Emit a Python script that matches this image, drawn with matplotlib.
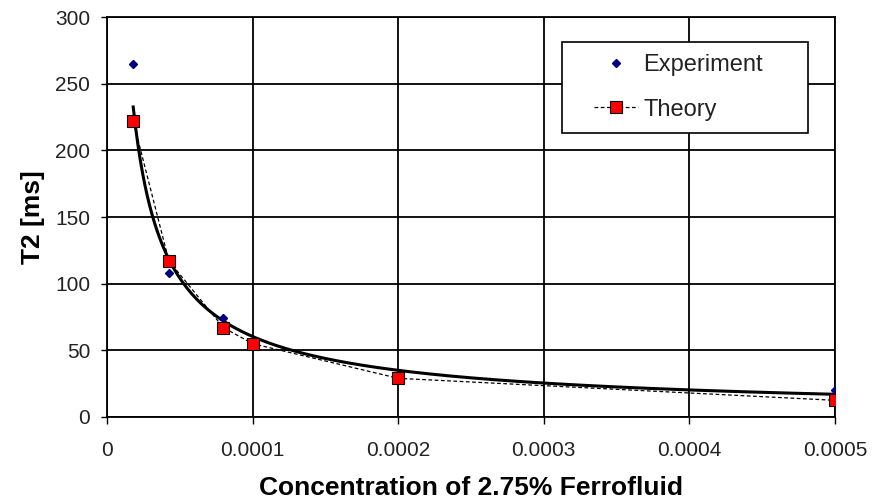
import numpy as np
import matplotlib
matplotlib.use('Agg')
import matplotlib.pyplot as plt
from matplotlib.legend_handler import HandlerLine2D

plt.rcParams['font.family'] = ['Liberation Sans', 'DejaVu Sans']

# 数据
conc = [1.8e-5, 4.25e-5, 8e-5, 1e-4, 2e-4, 5e-4]
t2_exp = [265, 108, 74, 56, 30, 20]
t2_theory = [222, 117, 67, 55, 29, 12.5]

# 幂函数拟合（趋势线）
b, log_a = np.polyfit(np.log(conc), np.log(t2_exp), 1)
x_fit = np.linspace(conc[0], conc[-1], 300)
y_fit = np.exp(log_a) * x_fit ** b

fig = plt.figure(figsize=(8.75, 5.01), dpi=100)
ax = fig.add_axes([0.1223, 0.1677, 0.832, 0.7983])

ax.plot(x_fit, y_fit, color='black', linewidth=2.2, zorder=3)
l_exp, = ax.plot(conc, t2_exp, linestyle='none', marker='D', markersize=4.5,
                 color='#000080', label='Experiment', zorder=4)
l_th, = ax.plot(conc, t2_theory, linestyle=(0, (3, 2)), linewidth=0.9, color='black',
                marker='s', markersize=8.5, markerfacecolor='#ff0000',
                markeredgecolor='black', markeredgewidth=0.8, label='Theory', zorder=5)

ax.set_xlim(0, 0.0005)
ax.set_ylim(0, 300)
ax.set_xticks([0, 0.0001, 0.0002, 0.0003, 0.0004, 0.0005])
ax.set_xticklabels(['0', '0.0001', '0.0002', '0.0003', '0.0004', '0.0005'])
ax.set_yticks(range(0, 301, 50))
ax.grid(True, color='black', linewidth=1.3)
ax.set_axisbelow(True)
for s in ax.spines.values():
    s.set_linewidth(1.3)
ax.tick_params(direction='out', width=1, labelsize=15, labelcolor='#222222')
ax.tick_params(axis='x', length=5, pad=12)
ax.tick_params(axis='y', length=4, pad=8)

ax.set_xlabel('Concentration of 2.75% Ferrofluid', fontsize=19,
              fontweight='bold', labelpad=12)
ax.set_ylabel('T2 [ms]', fontsize=19, fontweight='bold', labelpad=7)

# 图例：固定宽度，左侧留白
leg = ax.legend(handles=[l_exp, l_th], loc='upper left',
                bbox_to_anchor=(0.625, 0.5, 0.338, 0.4375), mode='expand',
                borderaxespad=0, fontsize=17,
                frameon=True, fancybox=False, edgecolor='black',
                borderpad=0.5, labelspacing=0.97, handlelength=2.7,
                handletextpad=0.25,
                handler_map={l_exp: HandlerLine2D(xpad=0.85),
                             l_th: HandlerLine2D(xpad=0.85)})
leg.get_frame().set_linewidth(1.2)
leg.get_frame().set_alpha(1)
for t in leg.get_texts():
    t.set_color('#222222')

fig.savefig('out.png', dpi=100, facecolor='white')
